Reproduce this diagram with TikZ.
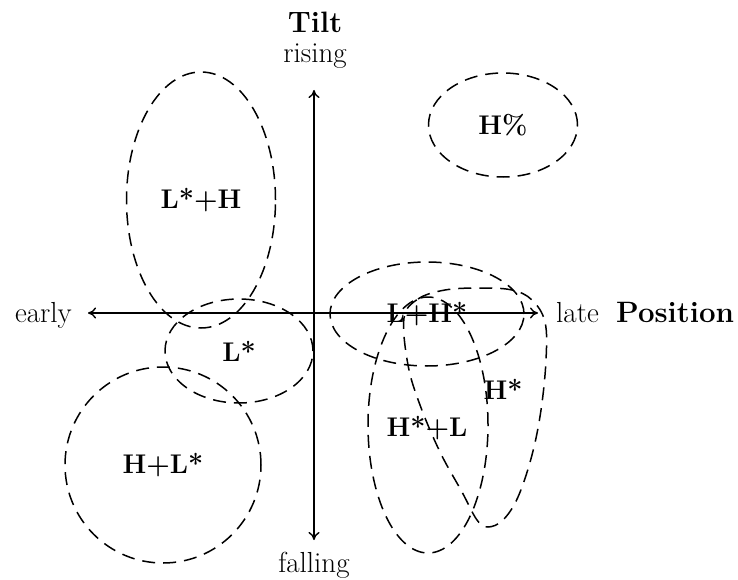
\documentclass[tikz,border=0pt]{standalone}
\usetikzlibrary{shapes.geometric,arrows.meta}
\begin{document}
\begin{tikzpicture}[x=1pt,y=-1pt,
  dashline/.style={draw, dash pattern=on 13pt off 8pt, line width=1.5pt},
  region/.style={dashline, ellipse, inner sep=0pt, outer sep=0pt,
    font=\fontsize{27}{32}\selectfont\bfseries},
  lbl/.style={inner sep=0pt, font=\fontsize{27}{32}\selectfont\bfseries},
  axlbl/.style={inner sep=0pt, font=\fontsize{29}{34}\selectfont},
  ttl/.style={inner sep=0pt, font=\fontsize{29.5}{35}\selectfont\bfseries},
  axis/.style={{To[length=8pt,width=11pt]}-{To[length=8pt,width=11pt]}, line width=1.4pt}]
\useasboundingbox (0,0) rectangle (738,580);
% axes
\coordinate (W) at (88,313);
\coordinate (E) at (538,313);
\coordinate (N) at (314,90);
\coordinate (S) at (314,540);
\draw[axis] (W) -- (E);
\draw[axis] (N) -- (S);
% axis labels
\node[axlbl, anchor=base east] (early) at (72,322) {early};
\node[axlbl, anchor=base west] (late) at (556,322) {late};
\node[ttl, anchor=base west] (pos) at (616,322) {Position};
\node[ttl, anchor=base] (tilt) at (315,33) {Tilt};
\node[axlbl, anchor=base] (rising) at (315,63) {rising};
\node[axlbl, anchor=base] (falling) at (314,572) {falling};
% regions
\node[region, minimum width=149pt, minimum height=256pt] (lsh) at (201,200) {L*+H};
\node[region, minimum width=148pt, minimum height=104pt] (ls) at (239,351) {L*};
\node[region, minimum width=196pt, minimum height=196pt] (hls) at (163,465) {H+L*};
\node[region, minimum width=149pt, minimum height=104pt] (hp) at (503,125) {H\%};
\node[region, minimum width=194pt, minimum height=104pt] (lhs) at (427,314) {L+H*};
\node[region, minimum width=120pt, minimum height=256pt] (hsl) at (428,425) {};
\node[lbl] (hsllabel) at (427,428) {H*+L};
\draw[dashline] plot[smooth cycle, tension=0.6] coordinates {
  (404,318) (418,299) (445,290) (480,288) (512,290) (532,300) (545,322)
  (546,360) (541,410) (532,455) (518,497) (503,520) (488,527) (477,520)
  (462,492) (440,452) (420,405) (408,365)};
\node[lbl] (hs) at (503,389) {H*};
\end{tikzpicture}
\end{document}
